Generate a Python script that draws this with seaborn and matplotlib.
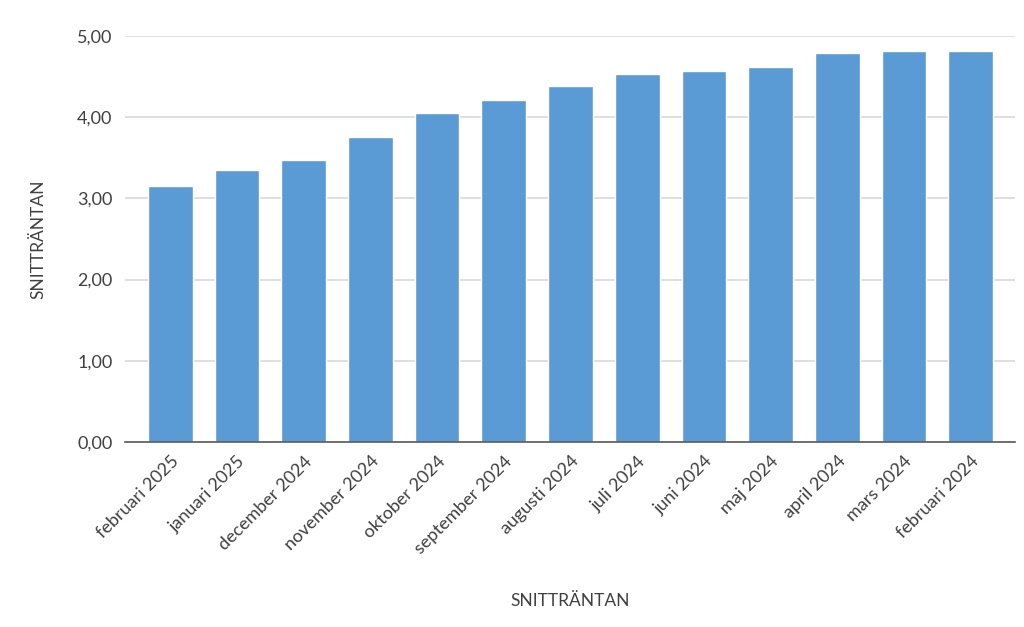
import matplotlib
matplotlib.use("Agg")
import matplotlib.pyplot as plt
import seaborn as sns
import pandas as pd
from matplotlib.ticker import FuncFormatter

months = ["februari 2025", "januari 2025", "december 2024", "november 2024",
          "oktober 2024", "september 2024", "augusti 2024", "juli 2024",
          "juni 2024", "maj 2024", "april 2024", "mars 2024", "februari 2024"]
rates = [3.15, 3.35, 3.47, 3.76, 4.05, 4.21, 4.38, 4.53, 4.56, 4.62, 4.79, 4.81, 4.81]
yticks = [0, 1, 2, 3, 4, 5]

sns.set_theme(style="white")
plt.rcParams['font.family'] = ['Lato', 'DejaVu Sans']

df = pd.DataFrame({"month": months, "rate": rates})

fig = plt.figure(figsize=(10.24, 6.27), dpi=100)
ax = fig.add_axes([0.122, 0.295, 0.869, 0.648])
sns.barplot(data=df, x="month", y="rate", color="#5B9BD5", saturation=1,
            width=0.67, ax=ax, zorder=3)

ax.set_ylim(0, 5)
ax.set_xlim(-0.68, 12.66)
ax.set_yticks(yticks)
ax.yaxis.set_major_formatter(FuncFormatter(lambda v, p: f"{v:.2f}".replace(".", ",")))
ax.grid(axis="y", color="#D9D9D9", linewidth=1.2, zorder=0)
for s in ["top", "right", "left"]:
    ax.spines[s].set_visible(False)
ax.spines["bottom"].set_color("#595959")
ax.spines["bottom"].set_linewidth(1.2)
ax.spines["bottom"].set_zorder(4)

ax.tick_params(axis="both", length=0, colors="#404040", labelsize=13)
ax.tick_params(axis="y", pad=9)
ax.tick_params(axis="x", pad=8)
plt.setp(ax.get_xticklabels(), rotation=45, ha="right", rotation_mode="anchor")

ax.set_xlabel("SNITTRÄNTAN", fontsize=12.5, color="#404040", labelpad=26)
ax.set_ylabel("SNITTRÄNTAN", fontsize=12.5, color="#404040", labelpad=22)

fig.savefig("out.png", dpi=100)
